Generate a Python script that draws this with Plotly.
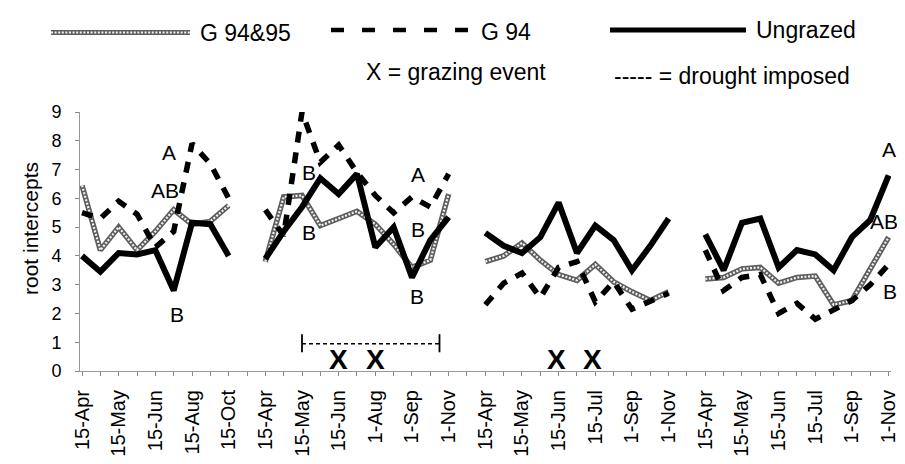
import plotly.graph_objects as go

# ---------------- data ----------------
# four sampling periods, one empty category between periods
labels_p1 = ["15-Apr", "15-May", "15-Jun", "15-Aug", "15-Oct"]
labels_p2 = ["15-Apr", "15-May", "15-Jun", "1-Aug", "1-Sep", "1-Nov"]
labels_p3 = ["15-Apr", "15-May", "15-Jun", "15-Jul", "1-Sep", "1-Nov"]
labels_p4 = ["15-Apr", "15-May", "15-Jun", "15-Jul", "1-Sep", "1-Nov"]

ungrazed_p1 = [4.0, 3.45, 4.1, 4.05, 4.2, 2.8, 5.15, 5.1, 4.0]
ungrazed_p2 = [3.9, 4.85, 5.7, 6.7, 6.15, 6.85, 4.3, 5.0, 3.25, 4.55, 5.35]
ungrazed_p3 = [4.8, 4.35, 4.1, 4.65, 5.85, 4.1, 5.05, 4.55, 3.5, 4.35, 5.3]
ungrazed_p4 = [4.75, 3.5, 5.15, 5.3, 3.6, 4.2, 4.05, 3.5, 4.65, 5.25, 6.8]

g9495_p1 = [6.45, 4.2, 5.0, 4.2, 4.85, 5.6, 5.1, 5.2, 5.75]
g9495_p2 = [3.8, 6.05, 6.1, 5.05, 5.3, 5.55, 5.1, 4.4, 3.6, 3.85, 6.15]
g9495_p3 = [3.8, 4.0, 4.45, 3.85, 3.35, 3.15, 3.7, 3.1, 2.75, 2.45, 2.75]
g9495_p4 = [3.2, 3.25, 3.55, 3.6, 3.05, 3.25, 3.3, 2.3, 2.45, 3.55, 4.65]

g94_p1 = [5.5, 5.3, 5.9, 5.45, 4.3, 4.85, 7.9, 7.2, 6.0]
g94_p2 = [5.6, 4.7, 9.0, 7.25, 7.85, 6.9, 6.1, 5.5, 6.05, 5.7, 6.85]
g94_p3 = [2.3, 3.05, 3.4, 2.55, 3.6, 3.8, 2.4, 3.1, 2.15, 2.4, 2.7]
g94_p4 = [4.2, 2.8, 3.25, 3.35, 2.0, 2.35, 1.8, 2.1, 2.45, 3.0, 3.7]

# significance letters: (category position, value, text)
letters = [
    (4.75, 7.6, "A"), (4.5, 6.27, "AB"), (5.2, 1.95, "B"),
    (12.45, 9.83, "A"), (12.4, 6.9, "B"), (12.4, 4.8, "B"),
    (18.35, 6.83, "A"), (18.35, 4.9, "B"), (18.3, 2.6, "B"),
    (44.0, 7.7, "A"), (43.75, 5.2, "AB"), (44.05, 2.75, "B"),
]
# grazing events (category position)
grazing_events = [13.97, 16.0, 25.9, 27.85]
grazing_marker_y = 0.4
# drought imposed period (category positions) and bracket level
drought_start, drought_end, drought_level = 12.0, 19.5, 0.95

# ---------------- assemble ----------------
def join(*parts):
    out = []
    for i, p in enumerate(parts):
        if i:
            out.append(None)
        out.extend(p)
    return out

ungrazed = join(ungrazed_p1, ungrazed_p2, ungrazed_p3, ungrazed_p4)
g9495 = join(g9495_p1, g9495_p2, g9495_p3, g9495_p4)
g94 = join(g94_p1, g94_p2, g94_p3, g94_p4)
xs = list(range(len(ungrazed)))

tickvals, ticktext = [], []
start = 0
for labs, series in [(labels_p1, g94_p1), (labels_p2, g94_p2),
                     (labels_p3, g94_p3), (labels_p4, g94_p4)]:
    for j, lab in enumerate(labs):
        tickvals.append(start + 2 * j)
        ticktext.append(lab)
    start += len(series) + 1

FONT = "Liberation Sans, Arial, sans-serif"

fig = go.Figure()
fig.add_trace(go.Scatter(x=xs, y=g9495, mode="lines", connectgaps=False,
                         line=dict(color="#5e5e5e", width=5.5), cliponaxis=False,
                         hoverinfo="skip"))
fig.add_trace(go.Scatter(x=xs, y=g9495, mode="lines", connectgaps=False,
                         line=dict(color="#f2f2f2", width=2.2, dash="2px,1.6px"),
                         cliponaxis=False, hoverinfo="skip"))
fig.add_trace(go.Scatter(x=xs, y=g94, mode="lines", connectgaps=False,
                         line=dict(color="black", width=5.5, dash="11px,10px"),
                         cliponaxis=False))
fig.add_trace(go.Scatter(x=xs, y=ungrazed, mode="lines", connectgaps=False,
                         line=dict(color="black", width=6), cliponaxis=False))

# plot area geometry (pixels) for paper-referenced decorations
L, R, T, B = 72, 22, 104, 101
W, H = 905, 464
PW, PH = W - L - R, H - T - B


def px(x):
    return (x - L) / PW


def py(y):
    return (H - B - y) / PH


shapes = []
annotations = []

# legend (manual)
shapes.append(dict(type="line", xref="paper", yref="paper", x0=px(43), x1=px(182),
                   y0=py(24.5), y1=py(24.5), line=dict(color="#5e5e5e", width=5)))
shapes.append(dict(type="line", xref="paper", yref="paper", x0=px(43), x1=px(182),
                   y0=py(24.5), y1=py(24.5),
                   line=dict(color="#f2f2f2", width=2, dash="2px,1.6px")))
shapes.append(dict(type="line", xref="paper", yref="paper", x0=px(323), x1=px(466),
                   y0=py(22), y1=py(22), line=dict(color="black", width=4.5, dash="13px,18px")))
shapes.append(dict(type="line", xref="paper", yref="paper", x0=px(602), x1=px(738),
                   y0=py(22), y1=py(22), line=dict(color="black", width=5)))
for x0, y0, txt in [(190, 25, "G 94&95"), (471, 24, "G 94"), (746, 22, "Ungrazed"),
                    (356, 64, "X = grazing event"), (604, 68, "----- = drought imposed")]:
    annotations.append(dict(xref="paper", yref="paper", x=px(x0), y=py(y0), text=txt,
                            showarrow=False, xanchor="left", yanchor="middle",
                            font=dict(family=FONT, size=23, color="black")))

# y title
annotations.append(dict(xref="paper", yref="paper", x=px(22), y=py(221),
                        text="root intercepts", textangle=-90, showarrow=False,
                        xanchor="center", yanchor="middle",
                        font=dict(family=FONT, size=21, color="black")))

# significance letters
for x, y, t in letters:
    annotations.append(dict(x=x, y=y, text=t, showarrow=False, xanchor="center",
                            yanchor="middle", font=dict(family=FONT, size=21, color="black")))

# grazing events
for x in grazing_events:
    annotations.append(dict(x=x, y=grazing_marker_y, text="<b>X</b>", showarrow=False,
                            xanchor="center", yanchor="middle",
                            font=dict(family=FONT, size=28, color="black")))

# drought bracket
shapes.append(dict(type="line", x0=drought_start, x1=drought_end, y0=drought_level,
                   y1=drought_level, line=dict(color="black", width=1.5, dash="4px,3px")))
for x in (drought_start, drought_end):
    shapes.append(dict(type="line", x0=x, x1=x, y0=drought_level - 0.3,
                       y1=drought_level + 0.33, line=dict(color="black", width=1.8)))

fig.update_layout(
    width=W, height=H, margin=dict(l=L, r=R, t=T, b=B),
    paper_bgcolor="white", plot_bgcolor="white", showlegend=False,
    shapes=shapes, annotations=annotations,
    font=dict(family=FONT, color="black"),
)
fig.update_xaxes(range=[-0.11, 44.13], tickmode="array", tickvals=tickvals, ticktext=ticktext,
                 tickangle=-90, ticks="outside", ticklen=4, tickcolor="#888",
                 minor=dict(tickmode="array", tickvals=xs, ticks="outside", ticklen=4,
                            tickcolor="#888"),
                 showline=True, linecolor="#999", linewidth=1, showgrid=False,
                 zeroline=False, tickfont=dict(family=FONT, size=20, color="black"),
                 ticklabelstandoff=6)
fig.update_yaxes(range=[0, 9], dtick=1, ticks="outside", ticklen=4, tickcolor="#888",
                 showline=True, linecolor="#999", linewidth=1, showgrid=False,
                 zeroline=False, tickfont=dict(family=FONT, size=18, color="black"),
                 ticklabelstandoff=10)

fig.write_html("out.html")
